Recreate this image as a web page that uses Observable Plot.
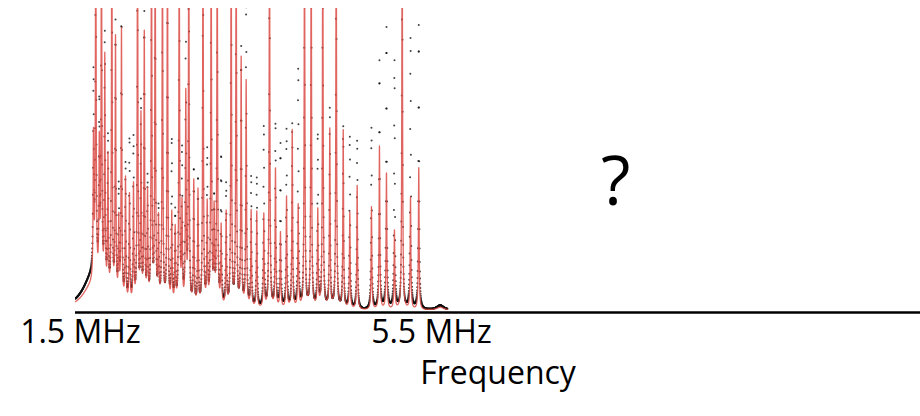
<!DOCTYPE html>
<html><head><meta charset="utf-8">
<script src="https://cdn.jsdelivr.net/npm/d3@7"></script>
<script src="https://cdn.jsdelivr.net/npm/@observablehq/plot@0.6"></script>
<style>
html,body{margin:0;padding:0;background:#fff;}
#chart{width:920px;height:416px;overflow:hidden;}
</style></head><body><div id="chart"></div>
<script>
// Resonance centres (MHz)
const peakFreq = [1.648,1.674,1.714,1.739,1.777,1.813,1.857,1.899,1.936,1.967,2.013,2.058,2.104,2.150,2.189,2.227,2.264,2.309,2.351,2.389,2.434,2.491,2.540,2.579,2.625,2.657,2.700,2.734,2.791,2.839,2.896,2.944,2.989,3.023,3.058,3.103,3.160,3.217,3.274,3.331,3.388,3.445,3.509,3.589,3.654,3.722,3.779,3.848,3.913,3.981,4.053,4.129,4.204,4.261,4.341,4.414,4.494,4.569,4.653,4.816,4.907,4.987,5.078,5.166,5.261,5.355];
// Fitted (red) peak heights, 1 = top of the frame (values >1 run off the top)
const fitHeight = [0.47,1.3,0.45,1.3,0.77,0.45,1.3,0.86,0.26,0.90,0.41,0.36,0.39,1.3,0.61,0.89,0.36,1.3,1.3,0.27,1.3,1.3,0.30,0.25,1.3,0.32,0.69,1.3,0.41,0.38,1.3,0.33,1.3,0.30,1.3,0.26,0.31,1.3,1.3,0.82,0.75,0.32,0.32,0.31,1.3,0.46,0.25,0.37,0.59,0.34,1.3,1.3,0.32,1.3,0.59,1.3,0.59,0.32,0.41,0.34,0.54,0.45,0.26,1.3,0.37,0.47];
// Measured (black dots) peak heights
const dataHeight = [0.64,1.3,0.55,1.3,0.83,0.50,1.3,0.90,0.35,1.10,0.45,0.54,0.54,1.3,0.65,0.95,0.40,1.3,1.3,0.30,1.3,1.3,0.54,0.30,1.3,0.49,1.00,1.3,0.45,0.42,1.3,0.50,1.3,0.33,1.3,0.49,0.40,1.3,1.3,0.85,1.00,0.43,0.43,0.60,1.3,0.61,0.54,0.59,0.61,0.79,1.3,1.3,0.57,1.3,0.66,1.3,0.60,0.57,0.56,0.60,0.82,0.93,0.82,1.3,0.90,0.94];
const lineHWHM = 0.005;           // MHz, half width of each resonance
// Broad features: low-frequency edge and the small bump after the last line
const broadFreq = [1.637, 5.600];
const broadFit = [0.08, 0.010];
const broadData = [0.11, 0.016];
const broadHWHM = [0.137, 0.05];
const spanStart = 1.443, spanEnd = 5.682; // measured span (MHz)
const axisStart = 1.443, axisEnd = 11.073;
const tickValues = [1.5, 5.5];
const tickLabels = ["1.5 MHz", "5.5 MHz"];
const axisTitle = "Frequency";
const unknownFreq = 7.6, unknownLevel = 0.42, unknownText = "?";
const fitStep = 0.0004, dataStep = 0.0016;

function spectrum(f, heights, broadH) {
  let s = 0;
  for (let j = 0; j < broadFreq.length; j++) {
    const d = f - broadFreq[j], g = broadHWHM[j];
    s += broadH[j] * g * g / (d * d + g * g);
  }
  const g2 = lineHWHM * lineHWHM;
  for (let i = 0; i < peakFreq.length; i++) {
    const d = f - peakFreq[i];
    s += heights[i] * g2 / (d * d + g2);
  }
  return s;
}
const fitCurve = d3.range(spanStart, spanEnd, fitStep).map(f => ({f, v: spectrum(f, fitHeight, broadFit)}));
const dataPts = d3.range(spanStart, spanEnd, dataStep).map(f => ({f, v: spectrum(f, dataHeight, broadData)}));

const font = "'Open Sans', 'Noto Sans', sans-serif";
const chart = Plot.plot({
  width: 920, height: 416,
  marginTop: 8, marginBottom: 106, marginLeft: 75, marginRight: 0,
  x: {domain: [axisStart, axisEnd], axis: null},
  y: {domain: [0, 1], axis: null},
  style: {background: "#fff", fontFamily: font},
  marks: [
    Plot.ruleY([0], {stroke: "#000", strokeWidth: 2.5, dy: 2}),
    Plot.dot(dataPts, {x: "f", y: "v", r: 1, fill: "#111", stroke: "none", fillOpacity: 0.8, clip: true}),
    Plot.line(fitCurve, {x: "f", y: "v", stroke: "#da4a44", strokeWidth: 1.3, strokeOpacity: 0.85, clip: true}),
    Plot.text(tickValues, {x: d => d, text: (d, i) => tickLabels[i], frameAnchor: "bottom", lineAnchor: "top", dy: 10, fontSize: 32, fill: "#000", fontFamily: font}),
    Plot.text([axisTitle], {text: d => d, frameAnchor: "bottom", lineAnchor: "top", dy: 51, fontSize: 32, fill: "#000", fontFamily: font}),
    Plot.text([unknownText], {x: () => unknownFreq, y: () => unknownLevel, text: d => d, lineAnchor: "middle", fontSize: 68, fill: "#000", fontFamily: font})
  ]
});
document.getElementById("chart").append(chart);
</script></body></html>
